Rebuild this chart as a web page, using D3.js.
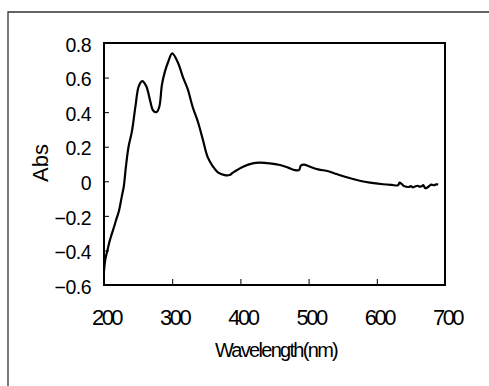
<!DOCTYPE html>
<html>
<head>
<meta charset="utf-8">
<script src="https://cdn.jsdelivr.net/npm/d3@7"></script>
<style>
  body { margin: 0; background: #fff; }
  svg { display: block; font-family: "Liberation Sans", Arial, sans-serif; }
</style>
</head>
<body>
<div id="chart"></div>
<script>
// spectrum
const wavelength = [200, 202, 205, 208, 211, 215, 218, 222, 226, 229, 232, 236, 241, 246, 251, 256, 262, 268, 272, 277, 281, 285, 289, 294, 300, 308, 316, 323, 330, 338, 345, 352, 360, 367, 377, 384, 389, 404, 418, 428, 443, 458, 470, 480, 486, 488.5, 493, 502, 514, 529, 541, 556, 575, 590, 609, 622, 631, 633.5, 636, 640, 643, 647, 650, 653, 656, 660, 663, 666, 668, 671, 674, 677, 680, 684, 687, 690];
const absorbance = [-0.52, -0.45, -0.40, -0.35, -0.31, -0.26, -0.22, -0.17, -0.09, -0.03, 0.08, 0.20, 0.29, 0.43, 0.55, 0.58, 0.55, 0.46, 0.41, 0.40, 0.43, 0.56, 0.63, 0.69, 0.74, 0.69, 0.60, 0.53, 0.43, 0.34, 0.24, 0.14, 0.084, 0.052, 0.036, 0.036, 0.05, 0.084, 0.104, 0.108, 0.104, 0.094, 0.079, 0.065, 0.065, 0.09, 0.096, 0.084, 0.069, 0.058, 0.042, 0.023, 0.003, -0.008, -0.017, -0.021, -0.023, -0.008, -0.014, -0.028, -0.031, -0.033, -0.028, -0.035, -0.030, -0.026, -0.031, -0.029, -0.022, -0.040, -0.036, -0.027, -0.019, -0.023, -0.018, -0.018];
const xTicks = [200, 300, 400, 500, 600, 700];
const yTicks = [0.8, 0.6, 0.4, 0.2, 0, -0.2, -0.4, -0.6];

const W = 489, H = 386;
const plotLeft = 104, plotRight = 445, plotTop = 43, plotBottom = 285;

const svg = d3.select('#chart').append('svg')
    .attr('width', W)
    .attr('height', H);

// outer frame of the scanned figure
svg.append('path')
    .attr('d', 'M8,' + (H + 2) + 'V12H' + (W + 2))
    .attr('fill', 'none')
    .attr('stroke', '#333')
    .attr('stroke-width', 1.3);

const x = d3.scaleLinear().domain([200, 700]).range([plotLeft, plotRight]);
const y = d3.scaleLinear().domain([-0.6, 0.8]).range([plotBottom, plotTop]);

// ticks point into the plot
const xAxis = svg.append('g')
    .attr('transform', 'translate(0,' + plotBottom + ')')
    .call(d3.axisBottom(x).tickValues(xTicks).tickSizeInner(-6).tickSizeOuter(0).tickPadding(0));
xAxis.select('.domain').remove();
xAxis.selectAll('line').attr('stroke', '#000').attr('stroke-width', 1);
xAxis.selectAll('text')
    .attr('y', 40)
    .attr('dy', 0)
    .attr('dx', 2)
    .attr('fill', '#000')
    .style('font-size', '22px')
    .style('letter-spacing', '-2.5px');

const yAxis = svg.append('g')
    .attr('transform', 'translate(' + plotLeft + ',0)')
    .call(d3.axisLeft(y).tickValues(yTicks).tickFormat(d3.format('')).tickSizeInner(-5).tickSizeOuter(0).tickPadding(0));
yAxis.select('.domain').remove();
yAxis.selectAll('line').attr('stroke', '#000').attr('stroke-width', 1);
yAxis.selectAll('text')
    .attr('x', -13)
    .attr('dy', '0.42em')
    .attr('fill', '#000')
    .style('font-size', '19.5px')
    .style('letter-spacing', '-0.5px');

// plot box
svg.append('rect')
    .attr('x', plotLeft)
    .attr('y', plotTop)
    .attr('width', plotRight - plotLeft)
    .attr('height', plotBottom - plotTop)
    .attr('fill', 'none')
    .attr('stroke', '#000')
    .attr('stroke-width', 2);

const line = d3.line()
    .x((d, i) => x(wavelength[i]))
    .y(d => y(d))
    .curve(d3.curveCatmullRom.alpha(0.5));

svg.append('path')
    .datum(absorbance)
    .attr('d', line)
    .attr('fill', 'none')
    .attr('stroke', '#000')
    .attr('stroke-width', 2.2)
    .attr('stroke-linejoin', 'round');

svg.append('text')
    .attr('x', 276)
    .attr('y', 357)
    .attr('text-anchor', 'middle')
    .style('font-size', '20px')
    .style('letter-spacing', '-1.7px')
    .text('Wavelength(nm)');

svg.append('text')
    .attr('transform', 'translate(48,163) rotate(-90)')
    .attr('text-anchor', 'middle')
    .style('font-size', '22px')
    .text('Abs');
</script>
</body>
</html>
